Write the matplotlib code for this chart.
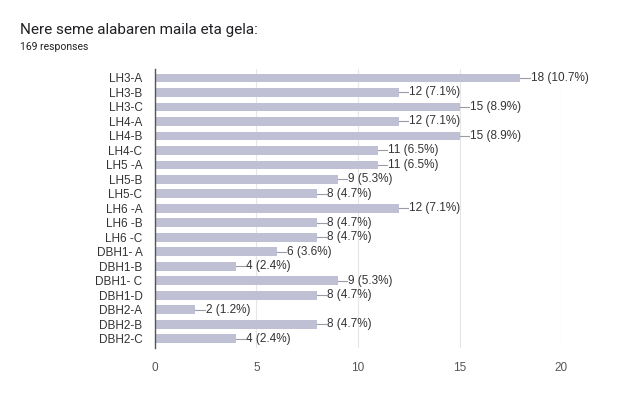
import numpy as np
import matplotlib.pyplot as plt

plt.rcParams['font.family'] = ['Liberation Sans', 'DejaVu Sans']

title = "Nere seme alabaren maila eta gela:"
subtitle = "169 responses"
categories = ["LH3-A", "LH3-B", "LH3-C", "LH4-A", "LH4-B", "LH4-C", "LH5 -A",
              "LH5-B", "LH5-C", "LH6 -A", "LH6 -B", "LH6 -C", "DBH1- A",
              "DBH1-B", "DBH1- C", "DBH1-D", "DBH2-A", "DBH2-B", "DBH2-C"]
counts = [18, 12, 15, 12, 15, 11, 11, 9, 8, 12, 8, 8, 6, 4, 9, 8, 2, 8, 4]
percents = ["10.7", "7.1", "8.9", "7.1", "8.9", "6.5", "6.5", "5.3", "4.7",
            "7.1", "4.7", "4.7", "3.6", "2.4", "5.3", "4.7", "1.2", "4.7", "2.4"]
xticks = [0, 5, 10, 15, 20]

fig = plt.figure(figsize=(6.22, 3.96), dpi=100)
ax = fig.add_axes([0.249, 0.122, 0.653, 0.703])

y = np.arange(len(categories))
bar_color = '#bfc0d4'
ax.barh(y, counts, height=0.62, color=bar_color, zorder=2)

for yi, c, p in zip(y, counts, percents):
    ax.plot([c, c + 0.45], [yi, yi], color='#9a9aa8', lw=0.8, zorder=3)
    ax.text(c + 0.5, yi, f"{c} ({p}%)", va='center', ha='left',
            fontsize=8.5, color='#333333', zorder=4)

ax.set_xlim(0, 20)
ax.set_ylim(len(categories) - 0.4, -0.6)
ax.set_xticks(xticks)
ax.set_yticks(y)
ax.set_yticklabels(categories)
ax.tick_params(axis='both', length=0, labelsize=8.5, colors='#333333')
ax.tick_params(axis='x', pad=10, colors='#555555')
ax.tick_params(axis='y', pad=9)
ax.grid(axis='x', color='#e6e6e6', lw=0.8, zorder=0)
for s in ['top', 'right', 'bottom']:
    ax.spines[s].set_visible(False)
ax.spines['left'].set_color('#555555')
ax.spines['left'].set_linewidth(1.0)
ax.spines['left'].set_zorder(5)

fig.text(20 / 622, 1 - 30 / 396, title, fontsize=11, color='#202124',
         va='center', family=['Roboto', 'DejaVu Sans'])
fig.text(20 / 622, 1 - 47 / 396, subtitle, fontsize=7.5, color='#202124',
         va='center', family=['Roboto', 'DejaVu Sans'])

fig.savefig('out.png', dpi=100)
